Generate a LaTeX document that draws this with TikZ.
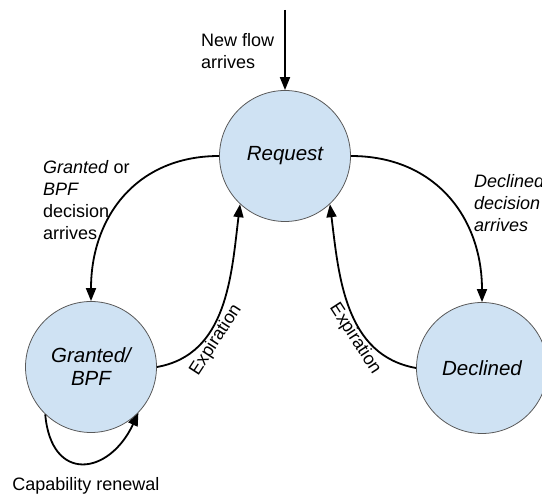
\documentclass[tikz,border=0pt]{standalone}
\usepackage{fontspec}
\setmainfont{Liberation Sans}
\usepackage{xcolor}
\usetikzlibrary{arrows.meta}
\definecolor{statefill}{HTML}{CFE2F3}
\definecolor{stateline}{HTML}{595959}
\tikzset{state/.style={circle, draw=stateline, line width=0.8pt, fill=statefill, minimum size=131pt, inner sep=0pt, align=center, font=\fontsize{20.5}{23}\selectfont\itshape},
trans/.style={-{Triangle[length=13pt,width=10pt]}, line width=1.8pt},
lbl/.style={inner sep=0pt, align=left, font=\fontsize{18}{22}\selectfont}}

\begin{document}
\begin{tikzpicture}[x=1pt,y=1pt]
\useasboundingbox (0,0) rectangle (542,-497);
% states
\node[state] (req) at (285,-156) {Request};
\node[state] (grant) at (91,-367) {Granted/\\BPF};
\node[state] (decl) at (482,-368) {Declined};
% new flow
\coordinate (src) at (285,-10);
\draw[trans] (src) -- (req);
\node[lbl, anchor=west] (newflow) at (201,-51) {New flow\\arrives};
% decisions
\draw[trans] (req.west) to[out=180, in=90, looseness=1.1] (grant.north);
\node[lbl, anchor=west] (grantlbl) at (43,-200) {\textit{Granted} or\\\textit{BPF}\\decision\\arrives};
\draw[trans] (req.east) to[out=0, in=90, looseness=1.1] (decl.north);
\node[lbl, anchor=west] (decllbl) at (474,-203.5) {\textit{Declined}\\\textit{decision}\\\textit{arrives}};
% expiration
\draw[trans] (grant.east) to[out=10, in=-97] (req.-133);
\node[lbl, rotate=57] (expgrant) at (216,-340) {Expiration};
\draw[trans] (decl.west) to[out=170, in=-83] (req.-47);
\node[lbl, rotate=-57] (expdecl) at (355,-339) {Expiration};
% renewal
\draw[trans] (grant.-134) to[out=-85, in=-115, looseness=1.9] (grant.-44);
\node[lbl] (renew) at (86,-486) {Capability renewal};
\end{tikzpicture}
\end{document}
